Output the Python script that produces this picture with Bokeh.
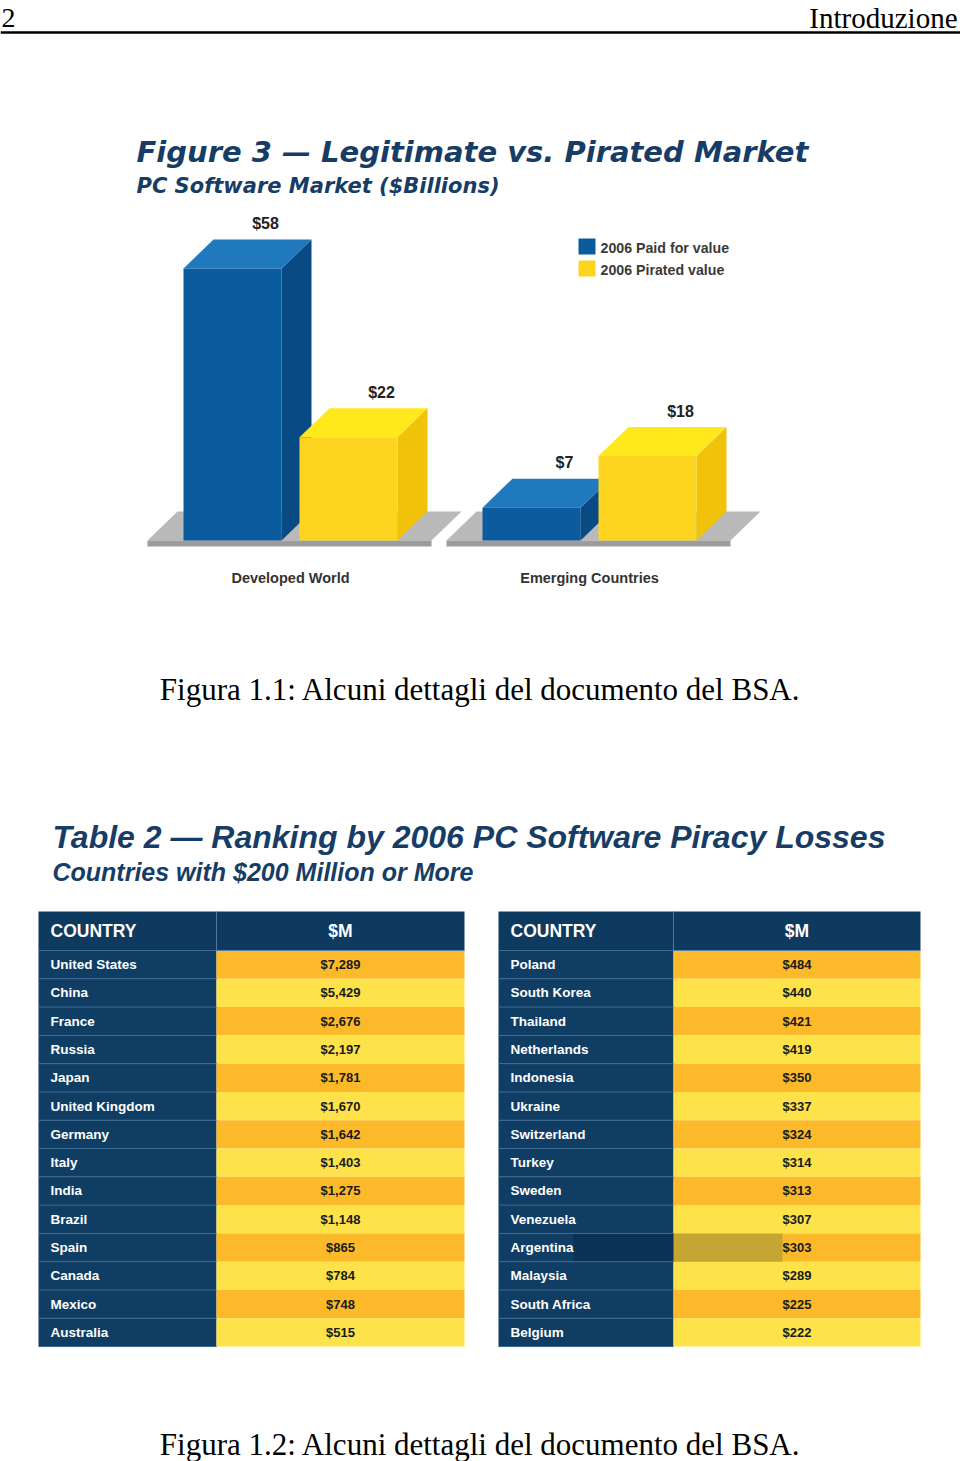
from bokeh.plotting import figure
from bokeh.models import Range1d
from bokeh.core.properties import value
from bokeh.embed import file_html
from bokeh.resources import INLINE

# ---------------- data ----------------
groups = ["Developed World", "Emerging Countries"]
series_names = ["2006 Paid for value", "2006 Pirated value"]
paid = [58, 7]
pirated = [22, 18]

left_countries = ["United States", "China", "France", "Russia", "Japan", "United Kingdom",
                  "Germany", "Italy", "India", "Brazil", "Spain", "Canada", "Mexico", "Australia"]
left_values = [7289, 5429, 2676, 2197, 1781, 1670, 1642, 1403, 1275, 1148, 865, 784, 748, 515]
right_countries = ["Poland", "South Korea", "Thailand", "Netherlands", "Indonesia", "Ukraine",
                   "Switzerland", "Turkey", "Sweden", "Venezuela", "Argentina", "Malaysia",
                   "South Africa", "Belgium"]
right_values = [484, 440, 421, 419, 350, 337, 324, 314, 313, 307, 303, 289, 225, 222]

# ---------------- layout / style ----------------
W, H = 960, 1461
COND = "'Liberation Sans Narrow', 'Liberation Sans', Arial, sans-serif"
SANS = "'Liberation Sans', Arial, sans-serif"
HEAVY = "'DejaVu Sans', sans-serif"
SERIF = "'Liberation Serif', 'DejaVu Serif', serif"
NAVY_T = "#173d66"

BASE_Y = 540.0      # page y of bar baseline
PXU = 4.69          # pixels per $billion
BAR_X0, BAR_W = 183, 98
GROUP_STEP, SERIES_STEP = 299, 116
DX, DV_PX = 30, 29
DV = DV_PX / PXU

T0 = 950.0          # page y of first table row top
RH = 28.29          # row height
HDR = 39.0 / RH

p = figure(width=W, height=H, output_backend="svg", toolbar_location=None,
           x_range=Range1d(0, W), y_range=Range1d(H, 0),
           min_border=0, x_axis_location=None, y_axis_location=None,
           outline_line_color=None, background_fill_color="white")
p.grid.visible = False
p.extra_y_ranges = {
    "bars": Range1d(start=(BASE_Y - H) / PXU, end=BASE_Y / PXU),
    "rows": Range1d(start=(H - T0) / RH, end=(0 - T0) / RH),
}

# ---------------- page header ----------------
p.text(x=[1], y=[17], text=["2"], text_font=value(SERIF), text_font_size="28px",
       text_align="left", text_baseline="middle", text_color="black")
p.text(x=[957], y=[17], text=["Introduzione"], text_font=value(SERIF),
       text_font_size="29px", text_align="right", text_baseline="middle",
       text_color="black")
p.segment(x0=[0], x1=[W], y0=[32], y1=[32], line_color="black", line_width=2.5)

# ---------------- Figure 3 ----------------
p.text(x=[136], y=[151], text=["Figure 3 \u2014 Legitimate vs. Pirated Market"],
       text_font=value(HEAVY), text_font_size="29px", text_font_style="bold italic",
       text_color=NAVY_T, text_align="left", text_baseline="middle")
p.text(x=[136], y=[185], text=["PC Software Market ($Billions)"],
       text_font=value(HEAVY), text_font_size="21px", text_font_style="bold italic",
       text_color=NAVY_T, text_align="left", text_baseline="middle")

# platforms
for g in range(len(groups)):
    gx0 = BAR_X0 + g * GROUP_STEP - 36
    gx1 = BAR_X0 + g * GROUP_STEP + SERIES_STEP + BAR_W + 34
    p.patch(x=[gx0, gx0 + DX, gx1 + DX, gx1], y=[0, DV, DV, 0], y_range_name="bars",
            fill_color="#b9b9b9", line_color=None)
    p.quad(left=[gx0], right=[gx1], bottom=[-6 / PXU], top=[0], y_range_name="bars",
           fill_color="#9c9c9c", line_color=None)

colors = [("#0b5c9e", "#2079bd", "#084a84"), ("#fdd521", "#ffe81c", "#f0c20a")]
for g in range(len(groups)):
    for s, vals in enumerate([paid, pirated]):
        v = vals[g]
        front, top, side = colors[s]
        x0 = BAR_X0 + g * GROUP_STEP + s * SERIES_STEP
        x1 = x0 + BAR_W
        p.patch(x=[x1, x1 + DX, x1 + DX, x1], y=[0, DV, v + DV, v], y_range_name="bars",
                fill_color=side, line_color=None)
        p.patch(x=[x0, x0 + DX, x1 + DX, x1], y=[v, v + DV, v + DV, v], y_range_name="bars",
                fill_color=top, line_color=None)
        p.quad(left=[x0], right=[x1], bottom=[0], top=[v], y_range_name="bars",
               fill_color=front, line_color=None)
        p.text(x=[x0 + BAR_W / 2 + 33], y=[v + DV], text=[f"${v}"], y_range_name="bars",
               y_offset=-16, text_font=value(COND), text_font_size="16px",
               text_font_style="bold", text_color="#222222", text_align="center",
               text_baseline="middle")

for g, name in enumerate(groups):
    cx = BAR_X0 + g * GROUP_STEP + (SERIES_STEP + BAR_W) / 2
    p.text(x=[cx], y=[577], text=[name], text_font=value(COND), text_font_size="14.5px",
           text_font_style="bold", text_color="#333333", text_align="center",
           text_baseline="middle")

# legend
for s, name in enumerate(series_names):
    ly = 246 + s * 22
    p.rect(x=[586.5], y=[ly], width=17, height=16, fill_color=colors[s][0], line_color=None)
    p.text(x=[600], y=[ly + 1], text=[name], text_font=value(COND), text_font_size="14.2px",
           text_font_style="bold", text_color="#3a3a3a", text_align="left",
           text_baseline="middle")

p.text(x=[480], y=[689], text=["Figura 1.1: Alcuni dettagli del documento del BSA."],
       text_font=value(SERIF), text_font_size="31px", text_color="black",
       text_align="center", text_baseline="middle")

# ---------------- Table 2 ----------------
p.text(x=[52], y=[836], text=["Table 2 \u2014 Ranking by 2006 PC Software Piracy Losses"],
       text_font=value(SANS), text_font_size="32px", text_font_style="bold italic",
       text_color=NAVY_T, text_align="left", text_baseline="middle")
p.text(x=[52], y=[871], text=["Countries with $200 Million or More"],
       text_font=value(SANS), text_font_size="25px", text_font_style="bold italic",
       text_color=NAVY_T, text_align="left", text_baseline="middle")

NAVY_H = "#0e3a5f"
NAVY_C = "#0f3d63"
ORANGE = "#fcb92a"
YELLOW = "#fee24a"

tables = [(left_countries, left_values, 38, 216, 464),
          (right_countries, right_values, 498, 673, 920)]
for countries, vals, X0, XS, X1 in tables:
    n = len(countries)
    idx = list(range(n))
    # header
    p.quad(left=[X0], right=[X1], top=[-HDR], bottom=[0], y_range_name="rows",
           fill_color=NAVY_H, line_color=None)
    p.segment(x0=[XS], x1=[XS], y0=[-HDR], y1=[0], y_range_name="rows",
              line_color="#4f7799", line_width=1)
    p.text(x=[X0 + 12], y=[-HDR / 2], text=["COUNTRY"], y_range_name="rows",
           text_font=value(COND), text_font_size="17.5px", text_font_style="bold",
           text_color="white", text_align="left", text_baseline="middle")
    p.text(x=[(XS + X1) / 2], y=[-HDR / 2], text=["$M"], y_range_name="rows",
           text_font=value(COND), text_font_size="17.5px", text_font_style="bold",
           text_color="white", text_align="center", text_baseline="middle")
    # cells
    p.quad(left=[X0] * n, right=[XS] * n, top=idx, bottom=[i + 1 for i in idx],
           y_range_name="rows", fill_color=NAVY_C, line_color=None)
    p.quad(left=[XS] * n, right=[X1] * n, top=idx, bottom=[i + 1 for i in idx],
           y_range_name="rows", fill_color=[ORANGE if i % 2 == 0 else YELLOW for i in idx],
           line_color=None)
    if "Argentina" in countries:
        a = countries.index("Argentina")
        p.quad(left=[XS], right=[XS + 109], top=[a], bottom=[a + 1], y_range_name="rows",
               fill_color="#c5a633", line_color=None)
        p.quad(left=[XS - 100], right=[XS], top=[a], bottom=[a + 1], y_range_name="rows",
               fill_color="#0b3256", line_color=None)
    p.segment(x0=[X0] * (n + 1), x1=[XS] * (n + 1), y0=list(range(n + 1)),
              y1=list(range(n + 1)), y_range_name="rows", line_color="#3e6b91", line_width=1)
    p.segment(x0=[XS], x1=[X1], y0=[0], y1=[0], y_range_name="rows",
              line_color="#5a82a4", line_width=1)
    p.text(x=[X0 + 12] * n, y=[i + 0.5 for i in idx], text=countries, y_range_name="rows",
           text_font=value(COND), text_font_size="13.5px", text_font_style="bold",
           text_color="white", text_align="left", text_baseline="middle")
    p.text(x=[(XS + X1) / 2] * n, y=[i + 0.5 for i in idx],
           text=[f"${v:,}" for v in vals], y_range_name="rows",
           text_font=value(COND), text_font_size="13px", text_font_style="bold",
           text_color="#1a1a1a", text_align="center", text_baseline="middle")

p.text(x=[480], y=[1444], text=["Figura 1.2: Alcuni dettagli del documento del BSA."],
       text_font=value(SERIF), text_font_size="31px", text_color="black",
       text_align="center", text_baseline="middle")

open("out.html", "w").write(file_html(p, INLINE))
